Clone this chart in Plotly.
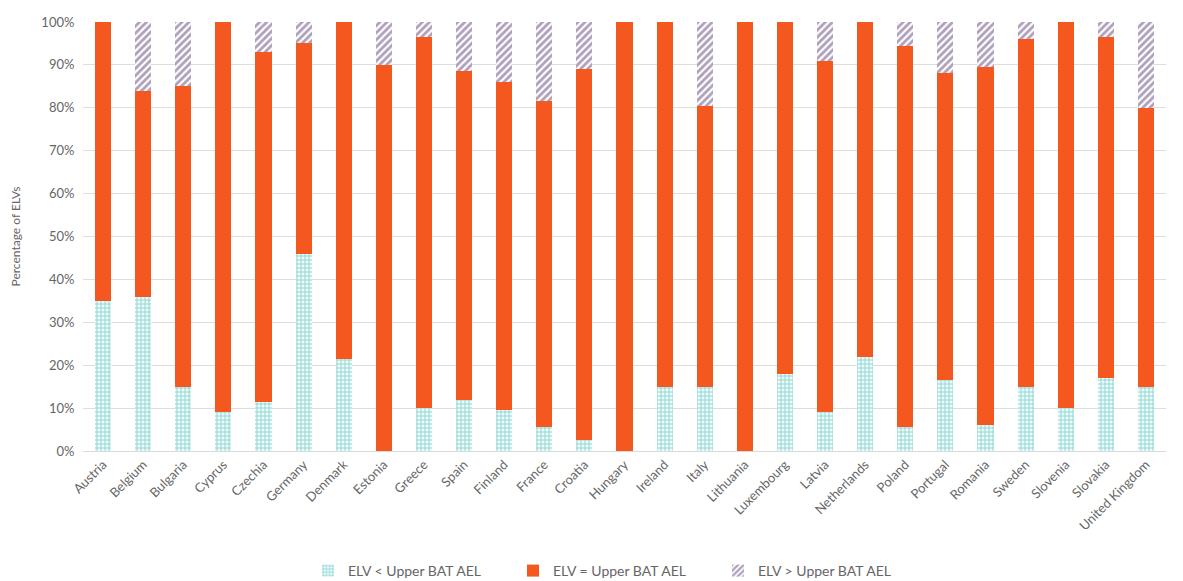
import plotly.graph_objects as go

countries = ["Austria", "Belgium", "Bulgaria", "Cyprus", "Czechia", "Germany", "Denmark",
             "Estonia", "Greece", "Spain", "Finland", "France", "Croatia", "Hungary",
             "Ireland", "Italy", "Lithuania", "Luxembourg", "Latvia", "Netherlands",
             "Poland", "Portugal", "Romania", "Sweden", "Slovenia", "Slovakia", "United Kingdom"]

# share of ELVs (%) per category
below = [35, 36, 15, 9, 11.5, 46, 21.5, 0, 10, 12, 9.5, 5.5, 2.5, 0,
         15, 15, 0, 18, 9, 22, 5.5, 16.5, 6, 15, 10, 17, 15]
equal = [65, 48, 70, 91, 81.5, 49, 78.5, 90, 86.5, 76.5, 76.5, 76, 86.5, 100,
         85, 65.5, 100, 82, 82, 78, 89, 71.5, 83.5, 81, 90, 79.5, 65]
above = [0, 16, 15, 0, 7, 5, 0, 10, 3.5, 11.5, 14, 18.5, 11, 0,
         0, 19.5, 0, 0, 9, 0, 5.5, 12, 10.5, 4, 0, 3.5, 20]

fig = go.Figure()
fig.add_trace(go.Bar(
    x=countries, y=below, name="ELV < Upper BAT AEL",
    marker=dict(color="white", line=dict(width=0),
                pattern=dict(shape="+", fgcolor="#16a09b", bgcolor="#eafbfa", size=4, solidity=0.35)),
))
fig.add_trace(go.Bar(
    x=countries, y=equal, name="ELV = Upper BAT AEL",
    marker=dict(color="#f4581f", line=dict(width=0)),
))
fig.add_trace(go.Bar(
    x=countries, y=above, name="ELV > Upper BAT AEL",
    marker=dict(color="white", line=dict(width=0),
                pattern=dict(shape="/", fgcolor="#5e3f78", bgcolor="white", size=5, solidity=0.55)),
))

# page body has an 8px margin, so margins are shifted to compensate
fig.update_layout(
    barmode="stack",
    bargap=0.6,
    width=1183, height=581,
    margin=dict(l=75, r=25, t=14, b=138),
    paper_bgcolor="white", plot_bgcolor="white",
    font=dict(family="Lato, Open Sans, sans-serif", color="#666666", size=12),
    xaxis=dict(tickangle=-45, showgrid=False, showline=True, linecolor="#d9d9d9",
               tickfont=dict(size=13), ticks="", automargin=False),
    yaxis=dict(range=[0, 100], dtick=10, ticksuffix="%", gridcolor="#dedede",
               zeroline=False, tickfont=dict(size=13), automargin=False,
               ticks="outside", ticklen=5, tickcolor="white",
               title=dict(text="Percentage of ELVs", font=dict(size=12), standoff=18)),
    legend=dict(orientation="h", xref="container", yref="container",
                x=0.2536, xanchor="left", y=0.031, yanchor="middle",
                font=dict(size=14), traceorder="normal", itemwidth=30,
                entrywidth=160),
)

fig.write_html("out.html")
